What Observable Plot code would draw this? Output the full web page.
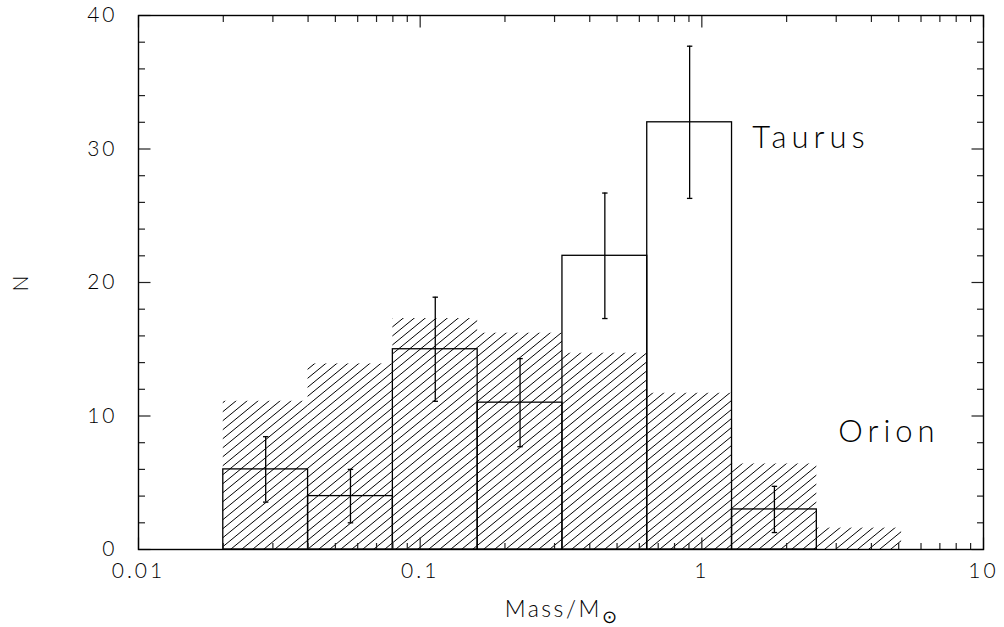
<!DOCTYPE html>
<html>
<head>
<meta charset="utf-8">
<script src="https://cdn.jsdelivr.net/npm/d3@7"></script>
<script src="https://cdn.jsdelivr.net/npm/@observablehq/plot@0.6"></script>
<style>
  html, body { margin: 0; padding: 0; background: #fff; }
  #chart svg { display: block; }
</style>
</head>
<body>
<div id="chart"></div>
<script>
// ---- data ----
const binLo = [0.02, 0.04, 0.08, 0.16, 0.32, 0.64, 1.28, 2.56];
const binHi = [0.04, 0.08, 0.16, 0.32, 0.64, 1.28, 2.56, 5.12];
const orionN = [11.1, 13.9, 17.3, 16.2, 14.7, 11.7, 6.4, 1.6];
const taurusN = [6, 4, 15, 11, 22, 32, 3];
const taurusErrLo = [3.55, 2.0, 11.1, 7.7, 17.3, 26.3, 1.27];
const taurusErrHi = [8.45, 6.0, 18.9, 14.3, 26.7, 37.7, 4.73];
const xMajor = [0.01, 0.1, 1, 10];
const xMinor = [0.02,0.03,0.04,0.05,0.06,0.07,0.08,0.09,
                0.2,0.3,0.4,0.5,0.6,0.7,0.8,0.9,
                2,3,4,5,6,7,8,9];
const yMajor = [0, 10, 20, 30, 40];
const yMinor = [2,4,6,8,12,14,16,18,22,24,26,28,32,34,36,38];
const labelText = ["Taurus", "Orion"];
const labelX = [1.51, 3.05];
const labelY = [30.8, 8.8];

const orion = binLo.map((lo, i) => ({x1: lo, x2: binHi[i], n: orionN[i]}));
const taurus = taurusN.map((n, i) => ({
  x1: binLo[i], x2: binHi[i], n,
  xc: Math.sqrt(binLo[i] * binHi[i]),
  lo: taurusErrLo[i], hi: taurusErrHi[i]
}));
const labels = labelText.map((t, i) => ({t, x: labelX[i], y: labelY[i]}));

// tick symbols (line segments drawn from the anchor point inward)
const seg = (dx, dy) => ({draw(ctx) { ctx.moveTo(0, 0); ctx.lineTo(dx, dy); }});
const cap = {draw(ctx) { ctx.moveTo(-2.7, 0); ctx.lineTo(2.7, 0); }};
const MAJ = 12, MIN = 6.5;

const font = "Lato, 'DejaVu Sans', sans-serif";

const chart = Plot.plot({
  width: 1004,
  height: 627,
  marginLeft: 138,
  marginRight: 21,
  marginTop: 15,
  marginBottom: 78,
  style: {fontFamily: font, fontSize: "21px", fontWeight: 300, color: "#000", background: "#fff"},
  x: {type: "log", domain: [0.01, 10], ticks: xMajor, tickFormat: d => String(d),
      tickSize: 0, tickPadding: 14, label: null},
  y: {domain: [0, 40], ticks: yMajor, tickSize: 0, tickPadding: 21, label: null},
  marks: [
    Plot.rect(orion, {x1: "x1", x2: "x2", y1: 0, y2: "n", fill: "url(#hatch)"}),
    Plot.rect(taurus, {x1: "x1", x2: "x2", y1: 0, y2: "n", fill: "none", stroke: "#000", strokeWidth: 1.3}),
    Plot.ruleX(taurus, {x: "xc", y1: "lo", y2: "hi", stroke: "#000", strokeWidth: 1.3}),
    Plot.dot(taurus, {x: "xc", y: "lo", symbol: cap, fill: "none", stroke: "#000", strokeWidth: 1.3}),
    Plot.dot(taurus, {x: "xc", y: "hi", symbol: cap, fill: "none", stroke: "#000", strokeWidth: 1.3}),
    // ticks: bottom / top
    Plot.dot(xMajor, {x: d => d, y: 0, symbol: seg(0, -MAJ), stroke: "#222", strokeWidth: 1.2}),
    Plot.dot(xMinor, {x: d => d, y: 0, symbol: seg(0, -MIN), stroke: "#222", strokeWidth: 1.2}),
    Plot.dot(xMajor, {x: d => d, y: 40, symbol: seg(0, MAJ), stroke: "#222", strokeWidth: 1.2}),
    Plot.dot(xMinor, {x: d => d, y: 40, symbol: seg(0, MIN), stroke: "#222", strokeWidth: 1.2}),
    // ticks: left / right
    Plot.dot(yMajor, {x: 0.01, y: d => d, symbol: seg(MAJ, 0), stroke: "#222", strokeWidth: 1.2}),
    Plot.dot(yMinor, {x: 0.01, y: d => d, symbol: seg(MIN, 0), stroke: "#222", strokeWidth: 1.2}),
    Plot.dot(yMajor, {x: 10, y: d => d, symbol: seg(-MAJ, 0), stroke: "#222", strokeWidth: 1.2}),
    Plot.dot(yMinor, {x: 10, y: d => d, symbol: seg(-MIN, 0), stroke: "#222", strokeWidth: 1.2}),
    Plot.text(labels, {x: "x", y: "y", text: "t", textAnchor: "start", fontSize: 31,
                       fontWeight: 300, fill: "#000"}),
    Plot.frame({stroke: "#000", strokeWidth: 1.4})
  ]
});

const svg = d3.select(chart);
svg.style("letter-spacing", "3px");
// wider spacing for the series labels
svg.selectAll("text").filter(function() { return labelText.includes(this.textContent); })
  .style("letter-spacing", "5px");
const defs = svg.insert("defs", ":first-child");
const pat = defs.append("pattern")
  .attr("id", "hatch")
  .attr("patternUnits", "userSpaceOnUse")
  .attr("width", 11).attr("height", 9);
pat.append("path")
  .attr("d", "M0,9L11,0M-1.1,0.9L1.1,-0.9M9.9,9.9L12.1,8.1")
  .attr("stroke", "#000").attr("stroke-width", 1).attr("fill", "none");

// axis titles
const xl = svg.append("text")
  .attr("x", 562).attr("y", 617)
  .attr("text-anchor", "middle")
  .attr("font-size", 23).attr("font-weight", 300)
  .attr("font-family", font).attr("fill", "#000")
  .style("letter-spacing", "2.5px")
  .text("Mass/M");
xl.append("tspan").attr("dy", 6).attr("font-size", 18).text("\u2299");

svg.append("text")
  .attr("transform", "translate(28,282) rotate(-90)")
  .attr("text-anchor", "middle")
  .attr("font-size", 21).attr("font-weight", 300)
  .attr("font-family", font).attr("fill", "#000")
  .text("N");

document.getElementById("chart").appendChild(chart);
</script>
</body>
</html>
